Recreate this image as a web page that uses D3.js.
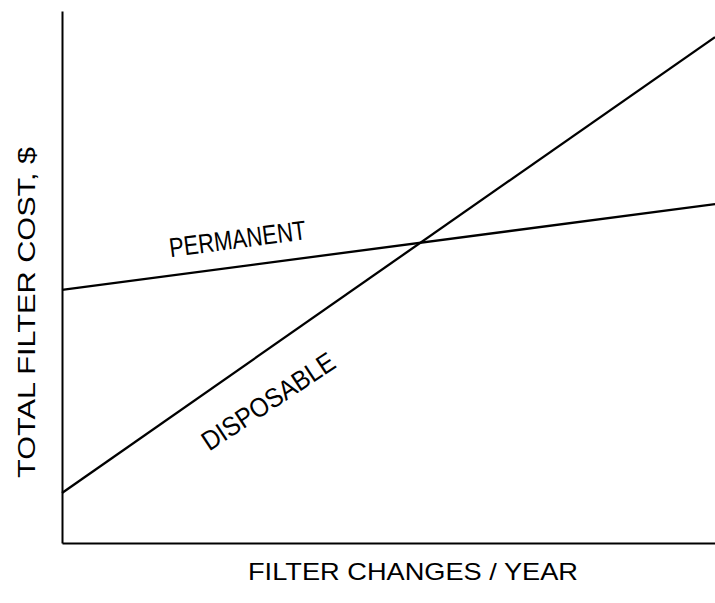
<!DOCTYPE html>
<html>
<head>
<meta charset="utf-8">
<script src="https://cdn.jsdelivr.net/npm/d3@7"></script>
<style>
  html, body { margin: 0; padding: 0; background: #fff; }
  svg { display: block; }
  text { font-family: "Liberation Sans", "DejaVu Sans", sans-serif; fill: #000; }
</style>
</head>
<body>
<svg id="chart" width="715" height="603"></svg>
<script>
// Filter changes per year (relative scale, no tick values shown)
const changes = [0, 10];
// Total cost of each filter type at the two ends of the range (relative units)
const permanentCost = [47.6, 63.7];
const disposableCost = [9.4, 95.1];
const seriesNames = ["PERMANENT", "DISPOSABLE"];
const xTitle = "FILTER CHANGES / YEAR";
const yTitle = "TOTAL FILTER COST, $";

const svg = d3.select("#chart");
const plotLeft = 62, plotRight = 715, plotTop = 11, plotBottom = 543;

const x = d3.scaleLinear().domain([0, 10]).range([plotLeft, plotRight]);
const y = d3.scaleLinear().domain([0, 100]).range([plotBottom, plotTop]);

// Axes drawn as bare lines (no ticks)
svg.append("g")
  .attr("transform", `translate(0,${plotBottom})`)
  .call(d3.axisBottom(x).tickValues([]).tickSizeOuter(0))
  .call(g => g.select(".domain").attr("stroke", "#000").attr("stroke-width", 2));
svg.append("g")
  .attr("transform", `translate(${plotLeft},0)`)
  .call(d3.axisLeft(y).tickValues([]).tickSizeOuter(0))
  .call(g => g.select(".domain").attr("stroke", "#000").attr("stroke-width", 2));

const line = d3.line().x(d => x(d[0])).y(d => y(d[1]));
const series = [
  changes.map((c, i) => [c, permanentCost[i]]),
  changes.map((c, i) => [c, disposableCost[i]])
];

svg.selectAll("path.series")
  .data(series)
  .join("path")
  .attr("class", "series")
  .attr("d", line)
  .attr("fill", "none")
  .attr("stroke", "#000")
  .attr("stroke-width", 2.3);

// Line labels, set along each line
const labelPos = [
  { cx: 237.5, cy: 238.5, angle: -7.6, len: 138 },
  { cx: 268, cy: 401, angle: -33.5, len: 154 }
];
seriesNames.forEach((name, i) => {
  const p = labelPos[i];
  svg.append("text")
    .attr("transform", `translate(${p.cx},${p.cy}) rotate(${p.angle})`)
    .attr("text-anchor", "middle")
    .attr("dy", "0.36em")
    .attr("font-size", 27)
    .attr("textLength", p.len)
    .attr("lengthAdjust", "spacingAndGlyphs")
    .text(name);
});

// Axis titles
svg.append("text")
  .attr("x", 413).attr("y", 580)
  .attr("text-anchor", "middle")
  .attr("font-size", 24)
  .attr("textLength", 330)
  .attr("lengthAdjust", "spacingAndGlyphs")
  .text(xTitle);

svg.append("text")
  .attr("transform", "translate(35,312.5) rotate(-90)")
  .attr("text-anchor", "middle")
  .attr("font-size", 24)
  .attr("textLength", 331)
  .attr("lengthAdjust", "spacingAndGlyphs")
  .text(yTitle);
</script>
</body>
</html>
